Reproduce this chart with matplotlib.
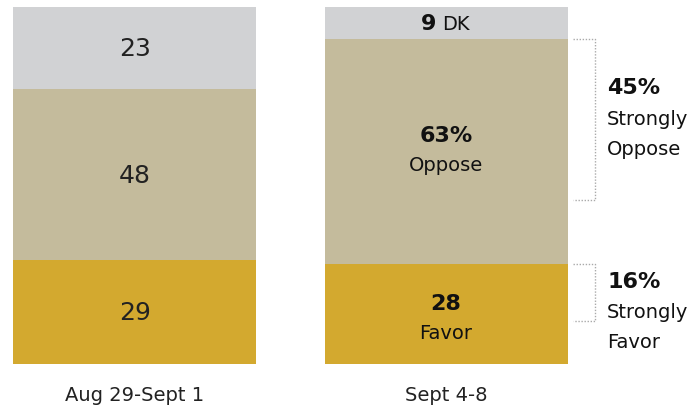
import matplotlib
matplotlib.use("Agg")
import matplotlib.pyplot as plt

# data
periods = ["Aug 29-Sept 1", "Sept 4-8"]
favor = [29, 28]
oppose = [48, 63]
dk = [23, 9]
strongly_oppose = 45
strongly_favor = 16

gold = "#D3A92F"
tan = "#C4BB9C"
gray = "#D1D2D4"

plt.rcParams['font.family'] = ['DejaVu Sans']

fig = plt.figure(figsize=(6.94, 4.10), dpi=100)
ax = fig.add_axes([0, 0.1098, 1, 0.8707])

x = [0, 1]
w = 0.78
ax.bar(x, favor, width=w, color=gold)
ax.bar(x, oppose, width=w, bottom=favor, color=tan)
bottom_dk = [f + o for f, o in zip(favor, oppose)]
ax.bar(x, dk, width=w, bottom=bottom_dk, color=gray)

ax.set_xlim(-0.432, 1.796)
ax.set_ylim(0, 100)
for s in ax.spines.values():
    s.set_visible(False)
ax.set_yticks([])
ax.set_xticks(x)
ax.set_xticklabels(periods, fontsize=14, color="#222222")
ax.tick_params(axis="x", length=0, pad=15)

# first bar: plain numbers
ax.text(0, favor[0] / 2, str(favor[0]), ha="center", va="center", fontsize=18, color="#222222")
ax.text(0, favor[0] + oppose[0] / 2, str(oppose[0]), ha="center", va="center", fontsize=18, color="#222222")
ax.text(0, bottom_dk[0] + dk[0] / 2, str(dk[0]), ha="center", va="center", fontsize=18, color="#222222")

# second bar
mid_f = favor[1] / 2
ax.annotate(str(favor[1]), (1, mid_f), xytext=(0, 8), textcoords="offset points",
            ha="center", va="center", fontsize=16, fontweight="bold", color="#111111")
ax.annotate("Favor", (1, mid_f), xytext=(0, -13), textcoords="offset points",
            ha="center", va="center", fontsize=14, color="#111111")
mid_o = favor[1] + oppose[1] / 2
ax.annotate(str(oppose[1]) + "%", (1, mid_o), xytext=(0, 12), textcoords="offset points",
            ha="center", va="center", fontsize=16, fontweight="bold", color="#111111")
ax.annotate("Oppose", (1, mid_o), xytext=(0, -9), textcoords="offset points",
            ha="center", va="center", fontsize=14, color="#111111")
mid_d = bottom_dk[1] + dk[1] / 2
ax.annotate(str(dk[1]), (1, mid_d), xytext=(-7, 0), textcoords="offset points",
            ha="right", va="center", fontsize=16, fontweight="bold", color="#111111")
ax.annotate("DK", (1, mid_d), xytext=(-3, 0), textcoords="offset points",
            ha="left", va="center", fontsize=14, color="#111111")

# dotted brackets
bx0, bx1 = 1.408, 1.478
top_o = bottom_dk[1]
ax.plot([bx0, bx1, bx1, bx0], [top_o, top_o, top_o - strongly_oppose, top_o - strongly_oppose],
        color="#AAAAAA", lw=1.0, ls=(0, (1, 1.2)), clip_on=False)
top_f = favor[1]
ax.plot([bx0, bx1, bx1, bx0], [top_f, top_f, top_f - strongly_favor, top_f - strongly_favor],
        color="#AAAAAA", lw=1.0, ls=(0, (1, 1.2)), clip_on=False)

lx = 1.517
ax.text(lx, 77.6, str(strongly_oppose) + "%", ha="left", va="center", fontsize=16, fontweight="bold", color="#111111")
ax.text(lx, 68.8, "Strongly", ha="left", va="center", fontsize=14, color="#111111")
ax.text(lx, 60.4, "Oppose", ha="left", va="center", fontsize=14, color="#111111")
ax.text(lx, 23.2, str(strongly_favor) + "%", ha="left", va="center", fontsize=16, fontweight="bold", color="#111111")
ax.text(lx, 14.6, "Strongly", ha="left", va="center", fontsize=14, color="#111111")
ax.text(lx, 6.4, "Favor", ha="left", va="center", fontsize=14, color="#111111")

fig.savefig("out.png", dpi=100)
